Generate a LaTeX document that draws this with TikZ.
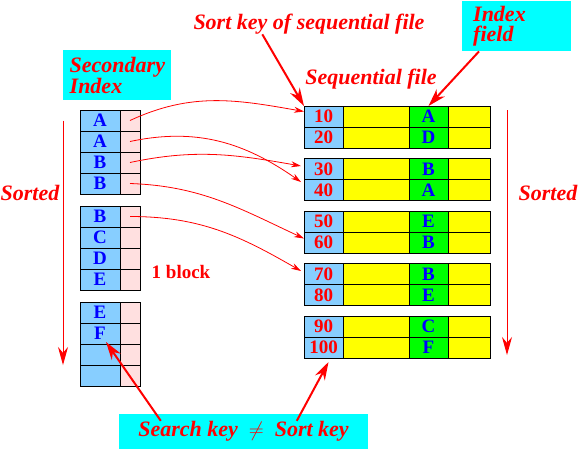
\documentclass[tikz,border=0pt]{standalone}
\usepackage{fontspec}
\setmainfont{Liberation Serif}
\usetikzlibrary{arrows.meta, positioning, calc}
\definecolor{keyblue}{HTML}{87CEFF}
\definecolor{ptrpink}{HTML}{FFE0E0}
\definecolor{recyellow}{HTML}{FFFF00}
\definecolor{fldgreen}{HTML}{00FF00}
\definecolor{notecyan}{HTML}{00FFFF}
\definecolor{dkred}{HTML}{FF0000}
\definecolor{keytext}{HTML}{0000FF}

\begin{document}
\begin{tikzpicture}[
    x=1pt, y=1pt,
    cell/.style={
        draw=black, fill=#1, line width=1pt, minimum height=21pt,
        inner sep=0pt, outer sep=0pt,
        font=\fontsize{19}{20}\selectfont\bfseries
    },
    ikey/.style={cell=keyblue, minimum width=40pt, text=keytext},
    iptr/.style={cell=ptrpink, minimum width=20pt},
    rkey/.style={cell=keyblue, minimum width=39pt, text=dkred},
    rdata/.style={cell=recyellow, minimum width=#1},
    rfield/.style={cell=fldgreen, minimum width=39pt, text=keytext},
    note/.style={
        font=\fontsize{22}{20}\selectfont\bfseries\itshape, text=dkred, inner sep=0pt
    },
    notebox/.style={note, fill=notecyan, align=left, anchor=north west, minimum height=50pt},
    pointer/.style={-{Stealth[length=10pt, width=6pt]}, dkred, line width=0.8pt},
    callout/.style={-{Stealth[length=18pt, width=11pt]}, dkred, line width=2pt},
    sortdir/.style={-{Stealth[length=18pt, width=10pt]}, dkred, line width=1pt}
]
\useasboundingbox (0,0) rectangle (580,-451);

% ===== Secondary index: three blocks of four entries =====
\foreach \l [count=\i] in {A,A,B,B,B,C,D,E,E,F,{},{}} {
    \pgfmathsetmacro{\ypos}{-(120.5 + 96*int((\i-1)/4) + 21*mod(\i-1,4))}
    \node[ikey] (ik\i) at (100,\ypos) {\l};
    \node[iptr, right=0pt of ik\i] (ip\i) {};
}

\node[notebox, text width=95pt, inner xsep=6.5pt] (secidx) at (63,-50) {Secondary\\Index};
\node[font=\fontsize{19}{20}\selectfont\bfseries, text=dkred, inner sep=0pt] (blk) at (181,-271.5) {1 block};

% ===== Sequential file: five blocks of two records =====
\foreach \n/\f [count=\i] in {10/A,20/D,30/B,40/A,50/E,60/B,70/B,80/E,90/C,100/F} {
    \pgfmathsetmacro{\ypos}{-(116.5 + 52.5*int((\i-1)/2) + 21*mod(\i-1,2))}
    \node[rkey] (k\i) at (323.5,\ypos) {\n};
    \node[rdata=66pt, right=0pt of k\i] (d\i) {};
    \node[rfield, right=0pt of d\i] (f\i) {\f};
    \node[rdata=42pt, right=0pt of f\i] (e\i) {};
}

\node[note] (sortkey) at (309,-24) {Sort key of sequential file};
\node[note] (seqfile) at (371,-79) {Sequential file};
\node[notebox, text width=87pt, inner xsep=11pt] (idxfield) at (462,-1) {Index\\field};

% ===== Sort order on both sides =====
\node[note] (lsorted) at (30,-193) {Sorted};
\node[note] (rsorted) at (548,-193) {Sorted};
\draw[sortdir] ([xshift=-17pt]ik1.west) -- ([xshift=-17pt]ik11.south west);
\draw[sortdir] ([xshift=17pt, yshift=-4pt]e1.north east) -- ([xshift=17pt, yshift=3pt]e10.south east);

% ===== Index pointers into the sequential file =====
\draw[pointer] (ip1.center) to[out=25, in=170] ([yshift=5pt]k1.west);
\draw[pointer] (ip2.center) to[out=12, in=145] ([xshift=-3pt, yshift=8pt]k4.west);
\draw[pointer] (ip3.center) to[out=12, in=170] ([xshift=-3pt, yshift=3pt]k3.west);
\draw[pointer] (ip4.center) to[out=-2, in=155] ([yshift=4pt]k6.west);
\draw[pointer] (ip5.center) to[out=0, in=150] ([xshift=-3pt, yshift=3pt]k7.west);

% ===== Callouts =====
\draw[callout] ([xshift=69pt]sortkey.south west) -- (k1.north west);
\draw[callout] ([xshift=17pt]idxfield.south west) -- (f1.north);

\node[note, fill=notecyan, minimum width=249pt, minimum height=35pt]
    (search) at (243.5,-431.5) {Search key\enspace$\neq$\enspace Sort key};
\draw[callout] ([xshift=42pt, yshift=-7pt]search.north west) -- ([xshift=6pt, yshift=2pt]ik10.south);
\draw[callout] ([xshift=178pt, yshift=-7pt]search.north west) -- ([xshift=5pt, yshift=-4pt]k10.south);

\end{tikzpicture}
\end{document}
